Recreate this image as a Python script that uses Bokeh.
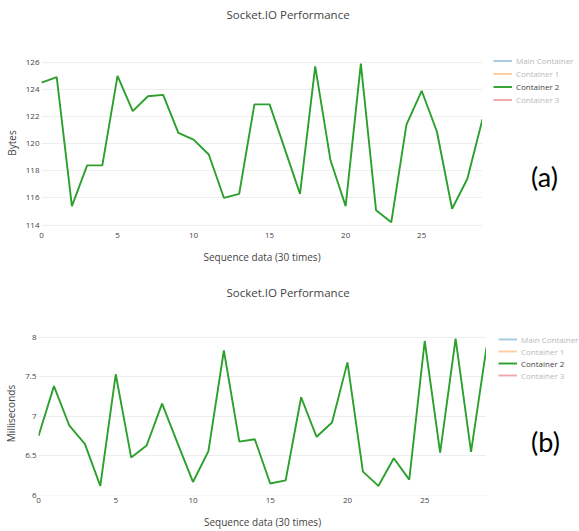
from bokeh.plotting import figure
from bokeh.layouts import column, row
from bokeh.models import (ColumnDataSource, Legend, LegendItem, Title, Label,
                          FixedTicker, NumeralTickFormatter, Range1d)
from bokeh.embed import file_html
from bokeh.resources import INLINE

# ---------------- data ----------------
seq = [0, 1, 2, 3, 4, 5, 6, 7, 8, 9, 10, 11, 12, 13, 14, 15, 16, 17, 18, 19,
       20, 21, 22, 23, 24, 25, 26, 27, 28, 29]
bytes_c2 = [124.5, 124.9, 115.4, 118.4, 118.4, 125.0, 122.4, 123.5, 123.6, 120.8,
            120.3, 119.2, 116.0, 116.3, 122.9, 122.9, 119.6, 116.3, 125.7, 118.8,
            115.4, 125.9, 115.1, 114.2, 121.4, 123.9, 120.9, 115.2, 117.4, 121.8]
ms_c2 = [6.75, 7.38, 6.88, 6.65, 6.12, 7.53, 6.48, 6.63, 7.16, 6.66,
         6.17, 6.56, 7.83, 6.68, 6.71, 6.15, 6.19, 7.24, 6.74, 6.92,
         7.68, 6.30, 6.12, 6.47, 6.20, 7.95, 6.54, 7.98, 6.55, 7.87]
series_names = ["Main Container", "Container 1", "Container 2", "Container 3"]
series_colors = ["#1f77b4", "#ff7f0e", "#2ca02c", "#d62728"]
shown_series = "Container 2"
# legend-only swatches carry no plotted values (placeholder: not a number)
legend_placeholder = [float("nan")]
x_ticks = [0, 5, 10, 15, 20, 25]
bytes_ticks = [114, 116, 118, 120, 122, 124, 126]
ms_ticks = [6, 6.5, 7, 7.5, 8]
title_text = "Socket.IO Performance"
x_title = "Sequence data (30 times)"

FONT = "Open Sans"
TXT = "#444444"


def make_chart(values, y_label, y_range, y_ticks, width, height, borders,
               title_left, spacer):
    left, right, top, bottom = borders
    p = figure(width=width, height=height, output_backend="svg", title=None,
               toolbar_location=None, x_range=Range1d(seq[0], seq[-1]),
               y_range=Range1d(*y_range), min_border_left=left,
               min_border_right=right, min_border_top=top,
               min_border_bottom=bottom)
    p.outline_line_color = None
    p.background_fill_color = "white"
    p.border_fill_color = "white"
    p.xgrid.grid_line_color = None
    p.ygrid.grid_line_color = "#eeeeee"
    p.ygrid.grid_line_width = 1

    p.xaxis.ticker = FixedTicker(ticks=x_ticks)
    p.yaxis.ticker = FixedTicker(ticks=y_ticks)
    p.yaxis.formatter = NumeralTickFormatter(format="0.[0]")
    for ax in (p.xaxis, p.yaxis):
        ax.axis_line_color = None
        ax.major_tick_line_color = None
        ax.minor_tick_line_color = None
        ax.major_tick_out = 0
        ax.major_tick_in = 0
        ax.minor_tick_out = 0
        ax.minor_tick_in = 0
        ax.major_label_text_font = FONT
        ax.major_label_text_font_size = "8px"
        ax.major_label_text_color = TXT
        ax.major_label_standoff = 2
        ax.axis_label_text_font = FONT
        ax.axis_label_text_font_size = "10px"
        ax.axis_label_text_font_style = "normal"
        ax.axis_label_text_color = TXT
    p.xaxis.axis_label = x_title
    p.xaxis.axis_label_standoff = 9
    p.yaxis.axis_label = y_label
    p.yaxis.axis_label_standoff = 4

    # spacer panel between frame and title, then the title itself
    p.add_layout(Title(text=" ", text_font_size="1px", standoff=spacer), "above")
    t = Title(text=title_text, align="left", offset=title_left, standoff=8,
              text_font=FONT, text_font_size="11.5px", text_font_style="normal",
              text_color=TXT)
    p.add_layout(t, "above")

    src = ColumnDataSource(dict(x=seq, y=values))
    p.line("x", "y", source=src,
           line_color=series_colors[series_names.index(shown_series)],
           line_width=1.9)
    return p


def make_side(width, height, top, bottom, legend_xy, label_height, tag, tag_xy):
    frame_h = height - top - bottom
    s = figure(width=width, height=height, output_backend="svg", title=None,
               toolbar_location=None, x_axis_location=None, y_axis_location=None,
               x_range=Range1d(0, width), y_range=Range1d(0, frame_h),
               min_border_left=0, min_border_right=0, min_border_top=top,
               min_border_bottom=bottom)
    s.grid.visible = False
    s.outline_line_color = None
    s.background_fill_color = "white"
    s.border_fill_color = "white"
    items = []
    for name, col in zip(series_names, series_colors):
        src = ColumnDataSource(dict(x=legend_placeholder, y=legend_placeholder))
        r = s.line("x", "y", source=src, line_color=col, line_width=1.9)
        if name != shown_series:
            r.visible = False
        items.append(LegendItem(label=name, renderers=[r]))
    leg = Legend(items=items, location=legend_xy, orientation="vertical",
                 label_text_font=FONT, label_text_font_size="8px",
                 label_text_color=TXT, glyph_width=19, glyph_height=label_height,
                 label_height=label_height, spacing=0, padding=0, margin=0,
                 label_standoff=4, border_line_color=None,
                 background_fill_alpha=0, inactive_fill_color="white",
                 inactive_fill_alpha=0.6, click_policy="hide")
    s.add_layout(leg, "center")
    lab = Label(x=tag_xy[0], y=tag_xy[1], text=tag, text_font="Lato",
                text_font_size="27px", text_color="black", text_align="center",
                text_baseline="middle")
    s.add_layout(lab, "center")
    return s


p1 = make_chart(bytes_c2, "Bytes", (113.6, 126.5), bytes_ticks, 482, 270,
                (41, 0, 52, 40), 185, 27)
s1 = make_side(97, 270, 52, 40, (11, 124), 13, "(a)", (62, 55))
p2 = make_chart(ms_c2, "Milliseconds", (5.999, 8.07), ms_ticks, 486, 261,
                (38, 0, 61, 36), 188, 25)
s2 = make_side(93, 261, 61, 36, (12, 114), 12, "(b)", (59, 54))

layout = column(row(p1, s1, spacing=0), row(p2, s2, spacing=0), spacing=0)
open("out.html", "w").write(file_html(layout, INLINE))
